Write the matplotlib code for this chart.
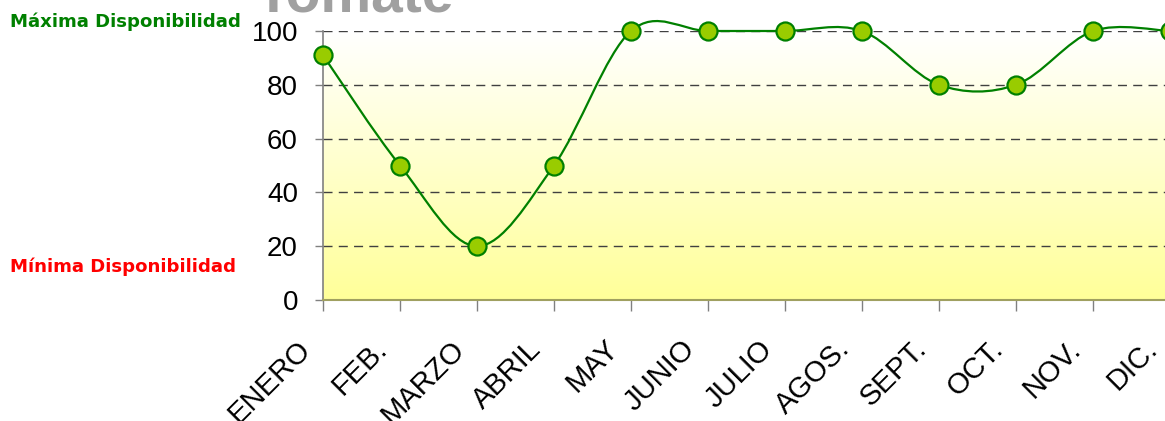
import numpy as np
import matplotlib
matplotlib.use("Agg")
import matplotlib.pyplot as plt
from matplotlib.path import Path
from matplotlib.patches import PathPatch
from matplotlib.colors import LinearSegmentedColormap
from matplotlib.transforms import ScaledTranslation

months = ["ENERO", "FEB.", "MARZO", "ABRIL", "MAY", "JUNIO", "JULIO",
          "AGOS.", "SEPT.", "OCT.", "NOV.", "DIC."]
values = [91, 50, 20, 50, 100, 100, 100, 100, 80, 80, 100, 100]
yticks = [0, 20, 40, 60, 80, 100]
title = "Tomate"
max_label = "Máxima Disponibilidad"
min_label = "Mínima Disponibilidad"

W, H = 1165, 421
fig = plt.figure(figsize=(W / 100, H / 100), dpi=100)
fig.patch.set_facecolor("white")

ax = fig.add_axes([323 / W, 121 / H, 847 / W, 269 / H])
ax.set_xlim(0, len(months) - 1)
ax.set_ylim(0, 100)

# gradient background
cmap = LinearSegmentedColormap.from_list("g", ["#FFFF99", "#FFFFFF"])
grad = np.linspace(0, 1, 256).reshape(-1, 1)
ax.imshow(grad, extent=[0, len(months) - 1, 0, 100], origin="lower",
          aspect="auto", cmap=cmap, zorder=0)

# grid
for yv in yticks[1:]:
    ax.axhline(yv, color="#404040", lw=1.0, dashes=(6.5, 4.5), zorder=1)

# smooth line (Excel-like bezier smoothing)
x = np.arange(len(values), dtype=float)
y = np.array(values, dtype=float)
verts = [(x[0], y[0])]
codes = [Path.MOVETO]
n = len(x)
for i in range(n - 1):
    p0 = np.array([x[max(i - 1, 0)], y[max(i - 1, 0)]])
    p1 = np.array([x[i], y[i]])
    p2 = np.array([x[i + 1], y[i + 1]])
    p3 = np.array([x[min(i + 2, n - 1)], y[min(i + 2, n - 1)]])
    c1 = p1 + (p2 - p0) / 6.0
    c2 = p2 - (p3 - p1) / 6.0
    verts += [tuple(c1), tuple(c2), tuple(p2)]
    codes += [Path.CURVE4] * 3
path = Path(verts, codes)
ax.add_patch(PathPatch(path, facecolor="none", edgecolor="#008000", lw=1.6,
                       zorder=3, clip_on=False))
ax.plot(x, y, linestyle="none", marker="o", markersize=13,
        markerfacecolor="#99CC00", markeredgecolor="#008000",
        markeredgewidth=1.6, zorder=4, clip_on=False)

# axes styling
for s in ["top", "right"]:
    ax.spines[s].set_visible(False)
ax.spines["left"].set_color("#808080")
ax.spines["left"].set_linewidth(1.2)
ax.spines["bottom"].set_color("#A0A060")
ax.spines["bottom"].set_linewidth(1.5)

ax.set_yticks(yticks)
ax.set_yticklabels([str(v) for v in yticks], fontsize=20,
                   family="Liberation Sans")
ax.set_xticks(x)
ax.set_xticklabels(months, fontsize=21, family="Liberation Sans",
                   rotation=45, ha="right", va="top", rotation_mode="anchor")
ax.tick_params(axis="y", length=6, width=1, color="#808080", pad=12)
ax.tick_params(axis="x", length=8, width=1, color="#808080", pad=17)
shift = ScaledTranslation(-27 / 100, 0, fig.dpi_scale_trans)
for lbl in ax.get_xticklabels():
    lbl.set_transform(lbl.get_transform() + shift)

fig.text(10 / W, 1 - 22 / H, max_label, color="#008000", fontsize=13.1,
         fontweight="bold", family="DejaVu Sans", ha="left", va="center")
fig.text(10 / W, 1 - 267 / H, min_label, color="#FF0000", fontsize=13.1,
         fontweight="bold", family="DejaVu Sans", ha="left", va="center")
fig.text(255 / W, 1 - 11 / H, title, color="#A0A0A0", fontsize=41,
         fontweight="bold", family="Liberation Sans", ha="left",
         va="baseline")

fig.savefig("out.png", dpi=100)
